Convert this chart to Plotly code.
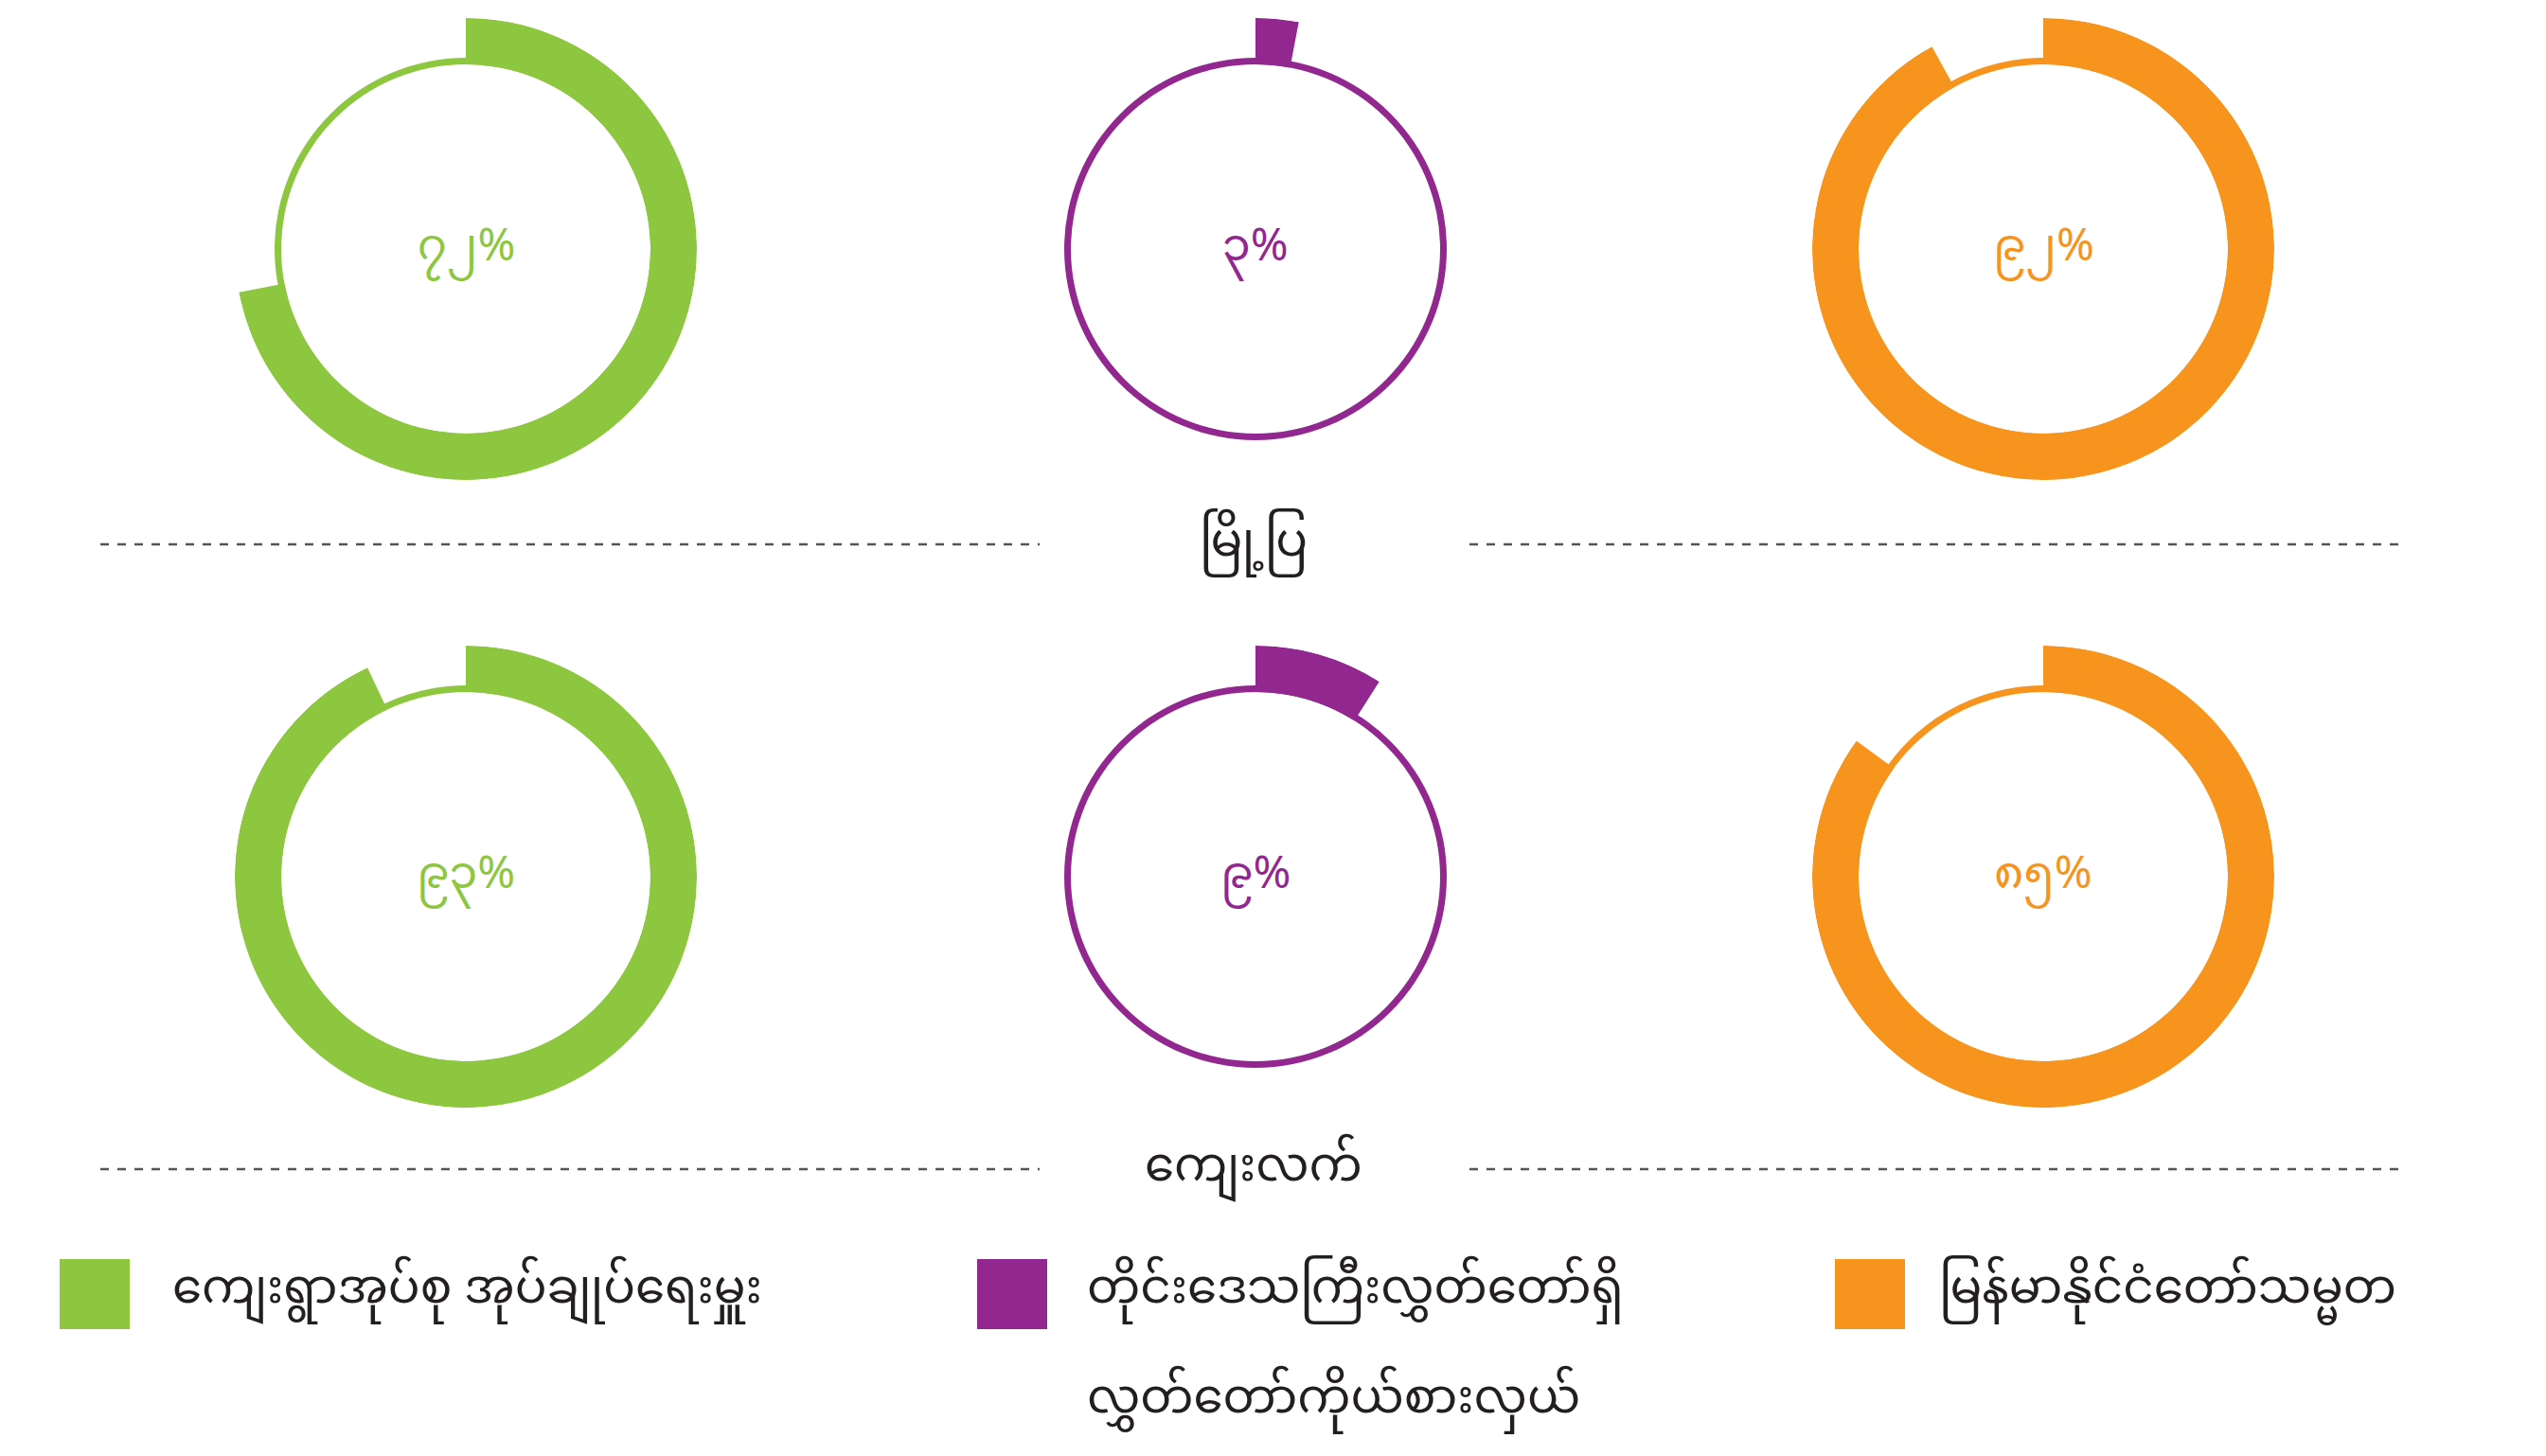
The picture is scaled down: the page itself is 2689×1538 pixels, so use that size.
import plotly.graph_objects as go

# ---------------- data ----------------
row_labels = ["မြို့ပြ", "ကျေးလက်"]
series_names = [
    ["ကျေးရွာအုပ်စု အုပ်ချုပ်ရေးမှူး"],
    ["တိုင်းဒေသကြီးလွှတ်တော်ရှိ", "လွှတ်တော်ကိုယ်စားလှယ်"],
    ["မြန်မာနိုင်ငံတော်သမ္မတ"],
]
urban_pct = [72, 3, 92]
rural_pct = [93, 9, 85]
urban_labels = ["၇၂%", "၃%", "၉၂%"]
rural_labels = ["၉၃%", "၉%", "၈၅%"]
colors = ["#8DC63F", "#92278F", "#F7941D"]

# ---------------- layout constants ----------------
W, H = 2689, 1538
R = 244          # outer radius in px (radial axis max)
BASE = 195       # inner radius of ring
THICK = 49       # thickness of value arc
THIN = 7         # thickness of full thin ring
col_x = [492, 1326, 2158]
row_y = [263, 926]
FONT = "Noto Sans Myanmar, Padauk, Myanmar Text, Noto Sans, DejaVu Sans"

fig = go.Figure()
values = [urban_pct, rural_pct]
labels = [urban_labels, rural_labels]
annotations = []
shapes = []
k = 0
for ri in range(2):
    for ci in range(3):
        k += 1
        pname = "polar" if k == 1 else f"polar{k}"
        cx, cy = col_x[ci], row_y[ri]
        pct = values[ri][ci]
        # thin full ring
        fig.add_trace(go.Barpolar(
            r=[THIN], base=[BASE], theta=[180], width=[360],
            marker=dict(color=colors[ci], line=dict(width=0)),
            subplot=pname, showlegend=False, hoverinfo="skip"))
        # value arc
        fig.add_trace(go.Barpolar(
            r=[THICK], base=[BASE], theta=[pct * 3.6 / 2], width=[pct * 3.6],
            marker=dict(color=colors[ci], line=dict(width=0)),
            subplot=pname, showlegend=False, hovertemplate=f"{pct}%<extra></extra>"))
        fig.update_layout(**{pname: dict(
            domain=dict(x=[(cx - R) / W, (cx + R) / W],
                        y=[1 - (cy + R) / H, 1 - (cy - R) / H]),
            radialaxis=dict(visible=False, range=[0, R]),
            angularaxis=dict(visible=False, direction="clockwise", rotation=90),
            bgcolor="rgba(0,0,0,0)", hole=0, bargap=0,
        )})
        annotations.append(dict(
            x=cx / W, y=1 - cy / H, xref="paper", yref="paper",
            xanchor="center", yanchor="middle",
            text=labels[ri][ci], showarrow=False,
            font=dict(family=FONT, size=48, color=colors[ci])))

# separators + row labels
sep_y = [575, 1235]
for ri in range(2):
    y = 1 - sep_y[ri] / H
    for x0, x1 in [(106, 1098), (1552, 2542)]:
        shapes.append(dict(type="line", xref="paper", yref="paper",
                           x0=x0 / W, x1=x1 / W, y0=y, y1=y,
                           line=dict(color="#555555", width=2.5, dash="dash")))
    annotations.append(dict(x=1324 / W, y=y, xref="paper", yref="paper",
                            xanchor="center", yanchor="middle",
                            text=row_labels[ri], showarrow=False,
                            font=dict(family=FONT, size=50, color="#231F20")))

# legend
leg_sq_x = [63, 1032, 1938]
leg_text_x = [180, 1146, 2046]
leg_y = 1364
line_gap = 116
SQ = 74
sq_cy = 1367
for i in range(3):
    shapes.append(dict(type="rect", xref="paper", yref="paper",
                       x0=leg_sq_x[i] / W, x1=(leg_sq_x[i] + SQ) / W,
                       y0=1 - (sq_cy + SQ / 2) / H, y1=1 - (sq_cy - SQ / 2) / H,
                       fillcolor=colors[i], line=dict(width=0)))
    for li, txt in enumerate(series_names[i]):
        annotations.append(dict(x=leg_text_x[i] / W, y=1 - (leg_y + li * line_gap) / H,
                                xref="paper", yref="paper", xanchor="left", yanchor="middle",
                                text=txt, showarrow=False, align="left",
                                font=dict(family=FONT, size=50, color="#231F20")))

fig.update_layout(width=W, height=H, margin=dict(l=0, r=0, t=0, b=0),
                  paper_bgcolor="white", plot_bgcolor="white",
                  annotations=annotations, shapes=shapes, showlegend=False)

fig.write_html("out.html", post_script="document.body.style.margin='0';",
               config={"displayModeBar": False})
